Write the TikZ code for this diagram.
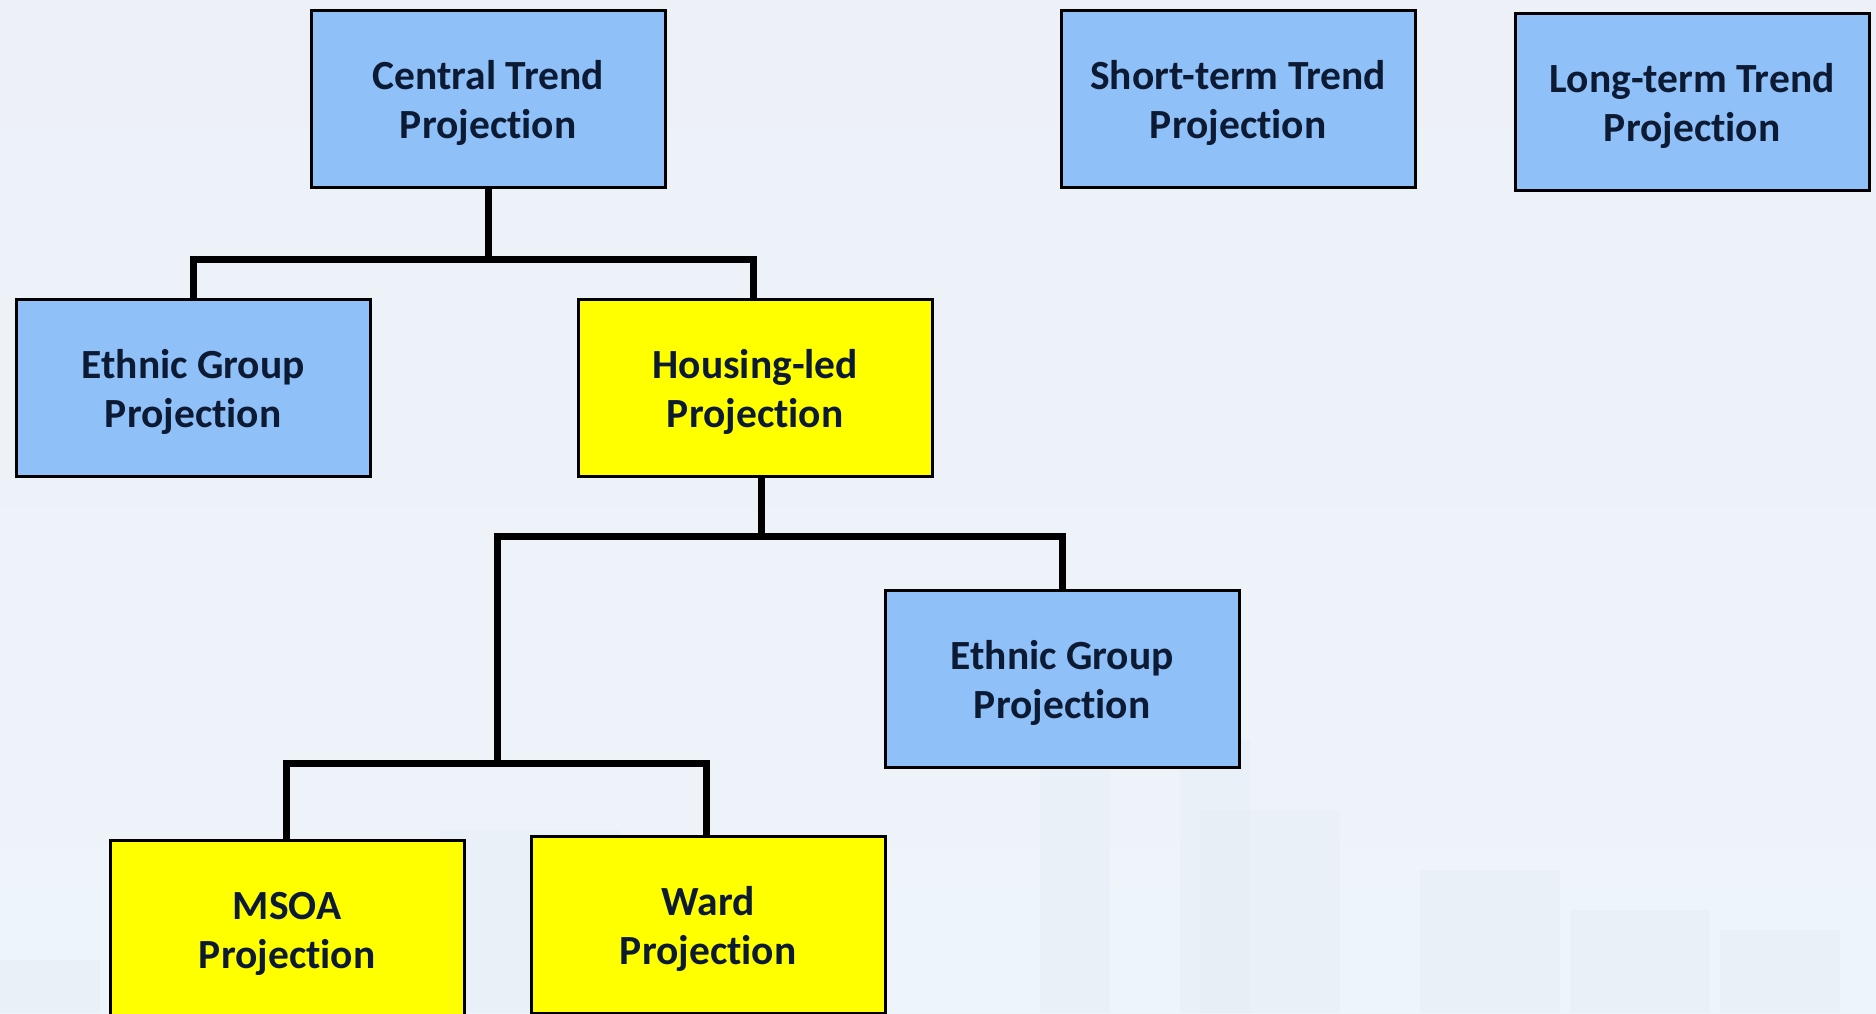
\documentclass[tikz,border=0pt]{standalone}
\usepackage{fontspec}
\setmainfont{Carlito}[Ligatures={NoCommon}]
\definecolor{bgtop}{HTML}{EDF1F7}
\definecolor{bgbot}{HTML}{EEF4FB}
\definecolor{boxblue}{HTML}{90C0F8}
\definecolor{boxyellow}{HTML}{FFFF00}
\definecolor{txt}{HTML}{0C1A33}
\definecolor{city}{HTML}{E4EBF4}
\tikzset{
  proj/.style={draw=black, line width=2.5pt, rectangle, anchor=north west,
    minimum width=354pt, minimum height=177pt, inner sep=0pt,
    align=center, text=txt, font=\bfseries\fontsize{41.5}{49}\selectfont},
  blueproj/.style={proj, fill=boxblue},
  yellowproj/.style={proj, fill=boxyellow},
  conn/.style={line width=7pt, draw=black}
}
\newcommand{\lbl}[2]{\rule{0pt}{38pt}#1\\#2}
\begin{document}
\begin{tikzpicture}[x=1pt,y=-1pt]
\useasboundingbox (0,0) rectangle (1876,1013);
\clip (0,0) rectangle (1876,1013);
\shade[top color=bgtop, bottom color=bgbot] (0,0) rectangle (1876,1013);
% faint skyline
\fill[city, opacity=0.35] (440,830) rectangle (620,1013);
\fill[city, opacity=0.35] (1040,770) rectangle (1110,1013);
\fill[city, opacity=0.35] (1180,740) rectangle (1250,1013);
\fill[city, opacity=0.35] (1200,810) rectangle (1340,1013);
\fill[city, opacity=0.35] (1420,870) rectangle (1560,1013);
\fill[city, opacity=0.35] (1570,910) rectangle (1710,1013);
\fill[city, opacity=0.35] (1720,930) rectangle (1840,1013);
\fill[city, opacity=0.35] (0,960) rectangle (100,1013);

\node[blueproj] (central) at (310,9) {\lbl{Central Trend}{Projection}};
\node[blueproj] (short) at (1060,9) {\lbl{Short-term Trend}{Projection}};
\node[blueproj] (long) at (1514,12) {\lbl{Long-term Trend}{Projection}};
\node[blueproj] (ethL) at (15,298) {\lbl{Ethnic Group}{Projection}};
\node[yellowproj] (housing) at (577,298) {\lbl{Housing-led}{Projection}};
\node[blueproj] (ethR) at (884,589) {\lbl{Ethnic Group}{Projection}};
\node[yellowproj] (msoa) at (109,839) {\lbl{MSOA}{Projection}};
\node[yellowproj] (ward) at (530,835) {\lbl{Ward}{Projection}};

\coordinate (j1) at (central.south |- 0,259);
\coordinate (j2) at (housing.south -| 761,0);
\coordinate (j2b) at (761,536);
\coordinate (j3) at (497,763);

\draw[conn] (central.south) -- (j1);
\draw[conn] (ethL.north -| 193,0) |- (j1) -| (housing.north -| 753,0);
\draw[conn] (j2) -- (j2b);
\draw[conn] (j3) |- (j2b) -| (ethR.north);
\draw[conn] (msoa.north -| 286,0) |- (j3) -| (ward.north -| 706,0);
\end{tikzpicture}
\end{document}
